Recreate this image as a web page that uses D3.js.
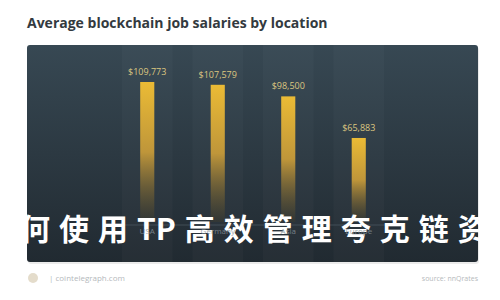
<!DOCTYPE html>
<html>
<head>
<meta charset="utf-8">
<script src="https://cdn.jsdelivr.net/npm/d3@7"></script>
<style>
  body { margin: 0; background: #fff; }
  svg { display: block; }
</style>
</head>
<body>
<script>
// Data
const locations = ['USA', 'Germany', 'Asia', 'Europe'];
const salaries = [109773, 107579, 98500, 65883];
const title = 'Average blockchain job salaries by location';
const overlayParts = ['如何使用', 'TP', '高效管理夸克链资产'];

const width = 500, height = 300;
const panel = { x: 27, y: 45, w: 451, h: 217 };

const svg = d3.select('body')
    .append('svg')
    .attr('width', width)
    .attr('height', height)
    .style('background', '#ffffff');

const defs = svg.append('defs');

// panel gradient
const pg = defs.append('linearGradient')
    .attr('id', 'panelGrad')
    .attr('x1', 0).attr('y1', 0).attr('x2', 0).attr('y2', 1);
pg.append('stop').attr('offset', '0%').attr('stop-color', '#374853');
pg.append('stop').attr('offset', '100%').attr('stop-color', '#212a31');

// bar gradient
const bg = defs.append('linearGradient')
    .attr('id', 'barGrad')
    .attr('x1', 0).attr('y1', 0).attr('x2', 0).attr('y2', 1);
bg.append('stop').attr('offset', '0%').attr('stop-color', '#ebbb35');
bg.append('stop').attr('offset', '50%').attr('stop-color', '#bf963a');
bg.append('stop').attr('offset', '100%').attr('stop-color', '#3a3a30').attr('stop-opacity', 0.5);

// Title
svg.append('text')
    .attr('x', 27)
    .attr('y', 28)
    .style('font-family', '"Open Sans", sans-serif')
    .style('font-weight', 'bold')
    .style('font-size', '14px')
    .style('fill', '#333a40')
    .text(title);

// Panel
svg.append('rect')
    .attr('x', panel.x + 1)
    .attr('y', panel.y + 2)
    .attr('width', panel.w)
    .attr('height', panel.h)
    .attr('rx', 3)
    .attr('fill', '#000')
    .attr('opacity', 0.08);

svg.append('rect')
    .attr('x', panel.x)
    .attr('y', panel.y)
    .attr('width', panel.w)
    .attr('height', panel.h)
    .attr('rx', 3)
    .attr('fill', 'url(#panelGrad)');

// Scales
const xScale = d3.scaleBand()
    .domain(locations)
    .range([112, 394])
    .paddingInner(0.8)
    .paddingOuter(0.4);

const yScale = d3.scaleLinear()
    .domain([0, d3.max(salaries)])
    .range([222, 82]);

// faint column bands
svg.selectAll('.band')
    .data(locations)
    .enter()
    .append('rect')
    .attr('x', d => xScale(d) + xScale.bandwidth() / 2 - xScale.step() / 2 + 10)
    .attr('y', panel.y)
    .attr('width', xScale.step() - 20)
    .attr('height', panel.h)
    .attr('fill', '#ffffff')
    .attr('opacity', 0.025);

// axis line
svg.append('line')
    .attr('x1', 112)
    .attr('x2', 394)
    .attr('y1', yScale(0) + 3)
    .attr('y2', yScale(0) + 3)
    .attr('stroke', '#55626c')
    .attr('stroke-width', 0.6);

// Bars
svg.selectAll('.bar')
    .data(salaries)
    .enter()
    .append('rect')
    .attr('x', (d, i) => xScale(locations[i]))
    .attr('y', d => yScale(d))
    .attr('width', xScale.bandwidth())
    .attr('height', d => yScale(0) - yScale(d))
    .attr('fill', 'url(#barGrad)');

// Value labels
svg.selectAll('.val')
    .data(salaries)
    .enter()
    .append('text')
    .attr('x', (d, i) => xScale(locations[i]) + xScale.bandwidth() / 2)
    .attr('y', d => yScale(d) - 7)
    .attr('text-anchor', 'middle')
    .style('font-family', '"Open Sans", sans-serif')
    .style('font-size', '9px')
    .style('fill', '#dcc680')
    .text(d => '$' + d3.format(',')(d));

// Overlay text (white; the parts outside the panel vanish into the white page)
const ov = svg.append('text')
    .attr('x', -19)
    .attr('y', 240)
    .style('font-family', '"Noto Sans CJK SC", sans-serif')
    .style('font-weight', 'bold')
    .style('font-size', '30px')
    .style('fill', '#ffffff');

ov.append('tspan').style('letter-spacing', '9px').text(overlayParts[0]);
ov.append('tspan').style('letter-spacing', '0px').text(overlayParts[1]);
ov.append('tspan').attr('dx', 9).style('letter-spacing', '9px').text(overlayParts[2]);

// Category labels
svg.selectAll('.cat')
    .data(locations)
    .enter()
    .append('text')
    .attr('x', d => xScale(d) + xScale.bandwidth() / 2)
    .attr('y', 234)
    .attr('text-anchor', 'middle')
    .style('font-family', '"Open Sans", sans-serif')
    .style('font-size', '8px')
    .style('fill', '#8a959d')
    .style('opacity', 0.8)
    .text(d => d);

// Footer
svg.append('circle')
    .attr('cx', 33)
    .attr('cy', 278)
    .attr('r', 5)
    .attr('fill', '#e4dccb');

svg.append('text')
    .attr('x', 49)
    .attr('y', 281)
    .style('font-family', '"Open Sans", sans-serif')
    .style('font-size', '8px')
    .style('fill', '#b5b9bc')
    .text('|  cointelegraph.com');

svg.append('text')
    .attr('x', 478)
    .attr('y', 281)
    .attr('text-anchor', 'end')
    .style('font-family', '"Open Sans", sans-serif')
    .style('font-size', '7px')
    .style('fill', '#b5b9bc')
    .text('source: nnQrates');
</script>
</body>
</html>
